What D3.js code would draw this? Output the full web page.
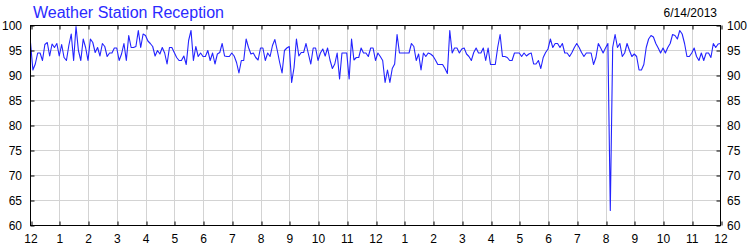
<!DOCTYPE html>
<html>
<head>
<meta charset="utf-8">
<script src="https://cdn.jsdelivr.net/npm/d3@7"></script>
<style>
  body { margin: 0; background: #fff; }
  svg { display: block; font-family: "Liberation Sans", Arial, sans-serif; }
</style>
</head>
<body>
<div id="chart"></div>
<script>
// one reading every 5 minutes, midnight to midnight
const sampleMinutes = 5;
const hourLabels = ["12", "1", "2", "3", "4", "5", "6", "7", "8", "9", "10", "11",
                    "12", "1", "2", "3", "4", "5", "6", "7", "8", "9", "10", "11", "12"];
const yTicks = [60, 65, 70, 75, 80, 85, 90, 95, 100];
const titleText = "Weather Station Reception";
const dateText = "6/14/2013";

const reception = [
    96.6, 91.1, 92.3, 94.5, 94.5, 93.0, 96.2, 96.6, 93.9, 96.3, 95.6, 96.4,
    93.9, 96.2, 93.6, 93.0, 96.0, 98.3, 93.0, 99.8, 95.0, 93.0, 97.3, 95.6,
    93.0, 97.3, 96.6, 94.6, 95.6, 93.9, 96.4, 95.8, 93.8, 94.5, 94.5, 95.5,
    95.5, 93.0, 94.3, 96.4, 93.0, 98.0, 95.6, 95.6, 95.8, 99.0, 95.6, 98.3,
    98.0, 96.9, 96.4, 95.8, 93.9, 95.0, 94.3, 95.6, 94.5, 92.3, 95.6, 95.6,
    94.6, 93.6, 93.0, 93.0, 93.9, 92.2, 97.0, 99.0, 93.0, 95.8, 93.8, 94.5,
    93.8, 93.8, 95.0, 93.0, 94.5, 92.3, 94.3, 94.6, 96.4, 93.9, 93.8, 93.8,
    94.5, 93.9, 92.6, 90.5, 93.0, 93.0, 97.3, 95.6, 94.3, 94.5, 93.6, 93.1,
    95.5, 95.5, 93.0, 94.5, 93.8, 96.0, 97.2, 95.0, 92.6, 90.5, 95.0, 95.5,
    95.8, 88.6, 91.6, 97.3, 93.9, 94.6, 94.6, 96.4, 94.3, 92.3, 95.5, 95.5,
    93.0, 94.5, 95.3, 93.9, 95.5, 93.1, 91.4, 92.3, 94.5, 89.3, 94.5, 94.5,
    94.5, 89.3, 97.3, 93.1, 93.6, 93.6, 95.5, 94.5, 94.5, 93.8, 95.5, 95.5,
    93.0, 94.5, 93.8, 93.0, 88.6, 91.1, 88.6, 91.4, 92.3, 98.2, 94.5, 94.5,
    94.5, 94.5, 94.5, 96.4, 95.8, 93.0, 94.3, 91.1, 94.5, 93.8, 94.5, 94.3,
    93.9, 93.1, 92.2, 92.2, 92.2, 91.4, 90.4, 99.0, 94.5, 95.5, 95.5, 94.5,
    95.3, 95.5, 94.3, 93.8, 93.0, 94.6, 95.5, 94.5, 94.5, 95.5, 93.0, 95.5,
    92.2, 92.2, 92.2, 95.6, 98.2, 93.8, 93.8, 93.6, 93.0, 93.0, 94.5, 94.5,
    94.5, 93.8, 94.5, 93.9, 94.3, 94.5, 92.3, 92.3, 93.0, 91.4, 93.6, 94.6,
    95.3, 97.3, 95.6, 96.4, 96.4, 95.6, 96.4, 94.5, 94.5, 93.8, 94.6, 95.6,
    96.4, 95.6, 94.6, 93.8, 94.5, 94.5, 94.5, 92.2, 93.6, 96.4, 95.5, 94.5,
    95.5, 96.4, 63.0, 95.6, 98.2, 95.6, 96.4, 93.8, 94.5, 96.4, 95.0, 93.8,
    94.3, 93.8, 91.1, 91.1, 92.2, 95.6, 97.3, 98.0, 97.7, 96.4, 95.5, 94.5,
    95.5, 94.5, 95.6, 96.4, 98.2, 98.0, 97.3, 99.0, 98.3, 96.4, 93.8, 93.8,
    94.5, 95.5, 93.8, 93.0, 94.5, 93.0, 94.5, 94.5, 93.6, 96.4, 95.6, 96.3,
    96.4
];

const width = 750, height = 250;
const plotLeft = 30.5, plotRight = 720.5, plotTop = 25.5, plotBottom = 225.5;

const svg = d3.select('#chart').append('svg')
    .attr('width', width)
    .attr('height', height);

const x = d3.scaleLinear().domain([0, 24]).range([plotLeft, plotRight]);
const y = d3.scaleLinear().domain([60, 100]).range([plotBottom, plotTop]);
const hours = d3.range(hourLabels.length);

// grid
const grid = svg.append('g').attr('stroke', '#d3d3d3').attr('stroke-width', 1);
grid.selectAll('line.v')
    .data(hours.slice(1, -1))
    .enter().append('line')
    .attr('class', 'v')
    .attr('x1', d => Math.round(x(d)) + 0.5).attr('x2', d => Math.round(x(d)) + 0.5)
    .attr('y1', plotTop).attr('y2', plotBottom);
grid.selectAll('line.h')
    .data(yTicks.slice(1, -1))
    .enter().append('line')
    .attr('class', 'h')
    .attr('x1', plotLeft).attr('x2', plotRight)
    .attr('y1', d => y(d)).attr('y2', d => y(d));

// reception line
const line = d3.line()
    .x((d, i) => x(i * sampleMinutes / 60))
    .y(d => y(d));

svg.append('path')
    .datum(reception)
    .attr('fill', 'none')
    .attr('stroke', '#2323ff')
    .attr('stroke-width', 1.1)
    .attr('stroke-linejoin', 'round')
    .attr('d', line);

// axes, ticks pointing inward
function styleAxis(g) {
    g.select('.domain').remove();
    g.selectAll('.tick line').attr('stroke', '#000');
    g.selectAll('.tick text')
        .attr('fill', '#000')
        .style('font-family', '"Liberation Sans", Arial, sans-serif')
        .style('font-size', '12px');
}

const snapX = d => Math.round(x(d)) + 0.5 - x(d);

svg.append('g')
    .attr('transform', `translate(0,${plotBottom})`)
    .call(d3.axisBottom(x).tickValues(hours).tickFormat(i => hourLabels[i])
        .tickSizeInner(-4).tickSizeOuter(0).tickPadding(9))
    .call(styleAxis)
    .selectAll('.tick line').attr('transform', d => `translate(${snapX(d)},0)`);

svg.append('g')
    .attr('transform', `translate(0,${plotTop})`)
    .call(d3.axisTop(x).tickValues(hours).tickFormat('')
        .tickSizeInner(-4).tickSizeOuter(0))
    .call(styleAxis)
    .selectAll('.tick line').attr('transform', d => `translate(${snapX(d)},0)`);

svg.append('g')
    .attr('transform', `translate(${plotLeft},0)`)
    .call(d3.axisLeft(y).tickValues(yTicks).tickFormat(d3.format('d'))
        .tickSizeInner(-4).tickSizeOuter(0).tickPadding(8.5))
    .call(styleAxis);

svg.append('g')
    .attr('transform', `translate(${plotRight},0)`)
    .call(d3.axisRight(y).tickValues(yTicks).tickFormat(d3.format('d'))
        .tickSizeInner(-4).tickSizeOuter(0).tickPadding(6.5))
    .call(styleAxis);

// frame
svg.append('rect')
    .attr('x', plotLeft).attr('y', plotTop)
    .attr('width', plotRight - plotLeft).attr('height', plotBottom - plotTop)
    .attr('fill', 'none')
    .attr('stroke', '#000')
    .attr('stroke-width', 1);

// titles
svg.append('text')
    .attr('x', 33).attr('y', 18)
    .attr('fill', '#2a2aff')
    .style('font-size', '16px')
    .text(titleText);

svg.append('text')
    .attr('x', 717).attr('y', 17)
    .attr('text-anchor', 'end')
    .attr('fill', '#000')
    .style('font-size', '12px')
    .text(dateText);
</script>
</body>
</html>
